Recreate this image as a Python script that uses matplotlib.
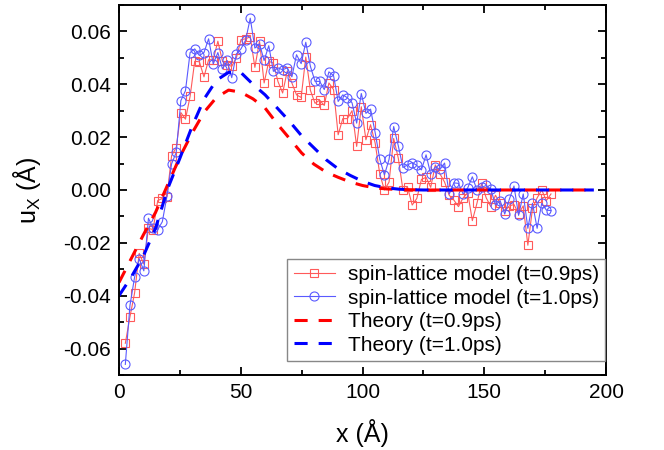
import numpy as np
import matplotlib
matplotlib.use("Agg")
import matplotlib.pyplot as plt
from matplotlib.ticker import MultipleLocator, FormatStrFormatter

plt.rcParams['font.family'] = ['Liberation Sans', 'DejaVu Sans']
plt.rcParams['axes.unicode_minus'] = False
plt.rcParams['mathtext.fontset'] = 'custom'
plt.rcParams['mathtext.rm'] = 'Liberation Sans'

# ---- simulation positions (Å) ----
x_sim = [2.6, 4.5, 6.4, 8.3, 10.2, 12.1, 14.0, 15.9, 17.8, 19.7,
         21.6, 23.5, 25.4, 27.3, 29.2, 31.1, 33.0, 34.9, 36.8, 38.7,
         40.6, 42.5, 44.4, 46.3, 48.2, 50.1, 52.0, 53.9, 55.8, 57.7,
         59.6, 61.5, 63.4, 65.3, 67.2, 69.1, 71.0, 72.9, 74.8, 76.7,
         78.6, 80.5, 82.4, 84.3, 86.2, 88.1, 90.0, 91.9, 93.8, 95.7,
         97.6, 99.5, 101.4, 103.3, 105.2, 107.1, 109.0, 110.9, 112.8, 114.7,
         116.6, 118.5, 120.4, 122.3, 124.2, 126.1, 128.0, 129.9, 131.8, 133.7,
         135.6, 137.5, 139.4, 141.3, 143.2, 145.1, 147.0, 148.9, 150.8, 152.7,
         154.6, 156.5, 158.4, 160.3, 162.2, 164.1, 166.0, 167.9, 169.8, 171.7,
         173.6, 175.5, 177.4]

# spin-lattice model, t = 0.9 ps
u_09 = [-0.058, -0.048, -0.039, -0.024, -0.028, -0.0145, -0.015, -0.004, -0.0032, -0.0025,
        0.013, 0.016, 0.0293, 0.0268, 0.0354, 0.0487, 0.0485, 0.0428, 0.0493, 0.0493,
        0.0563, 0.0487, 0.0474, 0.0468, 0.050, 0.0569, 0.0572, 0.058, 0.0464, 0.0563,
        0.0405, 0.0487, 0.048, 0.041, 0.0367, 0.045, 0.0405, 0.036, 0.035, 0.0503,
        0.0377, 0.0328, 0.034, 0.032, 0.0405, 0.038, 0.0209, 0.027, 0.027, 0.030,
        0.0165, 0.0315, 0.019, 0.0247, 0.0177, 0.006, 0.0, 0.003, 0.0195, 0.012,
        0.0, 0.001, -0.0057, -0.0032, 0.004, 0.0048, 0.001, 0.0095, 0.0061, 0.003,
        -0.002, -0.0038, -0.0063, -0.003, -0.001, -0.0116, -0.005, 0.0025, -0.003, -0.0063,
        -0.002, -0.005, -0.008, -0.006, -0.0055, -0.009, -0.006, -0.0209, -0.007, -0.003,
        0.0, -0.004, -0.0015]

# spin-lattice model, t = 1.0 ps
u_10 = [-0.066, -0.0437, -0.033, -0.026, -0.0306, -0.0107, -0.0145, -0.015, -0.012, -0.0023,
        0.0099, 0.0142, 0.0338, 0.0376, 0.052, 0.0534, 0.0509, 0.052, 0.0572, 0.0477,
        0.052, 0.0458, 0.049, 0.0425, 0.0515, 0.0534, 0.0567, 0.065, 0.0537, 0.0553,
        0.049, 0.0546, 0.0449, 0.0462, 0.0455, 0.0462, 0.0428, 0.0512, 0.0478, 0.0559,
        0.0468, 0.0411, 0.0411, 0.038, 0.0447, 0.0433, 0.0335, 0.036, 0.0349, 0.033,
        0.0253, 0.0365, 0.029, 0.0306, 0.0217, 0.0116, 0.0057, 0.0116, 0.024, 0.0167,
        0.0085, 0.0095, 0.0104, 0.0093, 0.0076, 0.0133, 0.006, 0.0088, 0.0078, 0.0102,
        -0.0016, 0.0027, 0.0025, -0.0015, 0.0008, 0.005, 0.0, 0.001, 0.0017, 0.0003,
        -0.0057, -0.004, -0.0091, -0.0035, 0.0015, -0.0096, -0.0015, -0.0145, -0.005, -0.0145,
        -0.005, -0.0076, -0.0078]

# theory curves
x_th = [0, 5, 10, 15, 20, 25, 30, 35, 40, 45, 50, 55, 60, 65, 70, 75, 80, 85, 90, 95,
        100, 105, 110, 115, 120, 125, 130, 135, 140, 145, 150, 155, 160, 165, 170, 175,
        180, 185, 190, 195]
th_09 = [-0.035, -0.026, -0.017, -0.0085, 0.002, 0.0125, 0.0215, 0.0295, 0.035, 0.0378,
         0.037, 0.0345, 0.031, 0.025, 0.0195, 0.014, 0.0098, 0.0068, 0.0048, 0.003,
         0.0017, 0.0008, 0.0004, 0.0002, 0.0001, 0, 0, 0, 0, 0,
         0, 0, 0, 0, 0, 0, 0, 0, 0, 0]
th_10 = [-0.040, -0.033, -0.025, -0.0145, 0.0005, 0.012, 0.024, 0.0345, 0.0415, 0.0445,
         0.0445, 0.040, 0.036, 0.031, 0.026, 0.0205, 0.016, 0.0115, 0.008, 0.0055,
         0.0033, 0.0017, 0.0008, 0.0003, 0.0001, 0, 0, 0, 0, 0,
         0, 0, 0, 0, 0, 0, 0, 0, 0, 0]

fig = plt.figure(figsize=(6.64, 4.5), dpi=100)
ax = fig.add_axes([0.1792, 0.1667, 0.7335, 0.8222])

ax.plot(x_sim, u_09, color='#ff5a5a', lw=0.8, marker='s', ms=5.5,
        mfc='none', mec='#ff5a5a', mew=0.8, label='spin-lattice model (t=0.9ps)')
ax.plot(x_sim, u_10, color='#5a5aff', lw=0.8, marker='o', ms=6.5,
        mfc='none', mec='#5a5aff', mew=0.8, label='spin-lattice model (t=1.0ps)')
l1, = ax.plot(x_th, th_09, color='#ff0000', lw=2.2, label='Theory (t=0.9ps)')
l2, = ax.plot(x_th, th_10, color='#0000ff', lw=2.2, label='Theory (t=1.0ps)')
for l in (l1, l2):
    l.set_dashes([4.3, 3.6])

ax.set_xlim(0, 200)
ax.set_ylim(-0.07, 0.07)
ax.xaxis.set_major_locator(MultipleLocator(50))
ax.xaxis.set_minor_locator(MultipleLocator(25))
ax.yaxis.set_major_locator(MultipleLocator(0.02))
ax.yaxis.set_minor_locator(MultipleLocator(0.01))
ax.yaxis.set_major_formatter(FormatStrFormatter('%.2f'))
ax.tick_params(which='both', direction='in', top=True, right=True, width=1.3)
ax.tick_params(which='major', length=6, labelsize=15, pad=6)
ax.tick_params(which='minor', length=3.5)
for s in ax.spines.values():
    s.set_linewidth(1.4)

ax.set_xlabel('x (Å)', fontsize=18, labelpad=12)
ax.set_ylabel('u$_\\mathregular{X}$ (Å)', fontsize=18, labelpad=14)

leg = ax.legend(loc='lower right', bbox_to_anchor=(0.998, 0.038), borderaxespad=0,
                fontsize=15, numpoints=1, fancybox=False, framealpha=1,
                edgecolor='#888888', handlelength=2.0, handletextpad=0.6,
                labelspacing=0.22, borderpad=0.3)
leg.get_frame().set_linewidth(1.0)

fig.savefig('out.png', dpi=100)
